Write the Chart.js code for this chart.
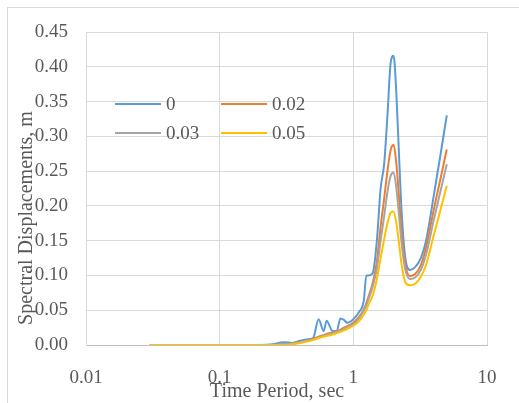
<!DOCTYPE html>
<html>
<head>
<meta charset="utf-8">
<script src="https://cdn.jsdelivr.net/npm/chart.js@4"></script>
<style>
  html, body { margin: 0; padding: 0; background: #fff; }
  #wrap { position: relative; width: 519px; height: 403px; }
  #frame { position: absolute; left: 7px; top: 7px; width: 520px; height: 410px;
           border-left: 1px solid #d9d9d9; border-top: 1px solid #d9d9d9; }
  canvas { position: absolute; left: 0; top: 0; }
</style>
</head>
<body>
<div id="wrap">
  <div id="frame"></div>
  <canvas id="chart" width="519" height="403"></canvas>
</div>
<script>
// periods (sec) and spectral displacements (m)
const periods = [0.03, 0.1, 0.2, 0.25, 0.3, 0.35, 0.4, 0.45, 0.5, 0.55, 0.6, 0.63, 0.7, 0.75, 0.8, 0.85, 0.9, 1.0, 1.1, 1.2,
  1.25, 1.3, 1.4, 1.5, 1.6, 1.7, 1.8, 1.9, 2.0, 2.1, 2.2, 2.3, 2.45, 2.65, 2.9, 3.2, 3.5, 4.0, 4.5, 5.0];
const damp0 = [0, 0, 0, 0.001, 0.004, 0.003, 0.006, 0.008, 0.01, 0.037, 0.02, 0.035, 0.02, 0.02, 0.038, 0.036, 0.032, 0.037, 0.047, 0.065,
  0.1, 0.1, 0.104, 0.15, 0.225, 0.26, 0.33, 0.405, 0.416, 0.36, 0.27, 0.19, 0.125, 0.108, 0.112, 0.125, 0.15, 0.215, 0.275, 0.33];
const damp002 = [0, 0, 0, 0, 0.001, 0.002, 0.004, 0.006, 0.009, 0.012, 0.014, 0.016, 0.018, 0.02, 0.022, 0.025, 0.027, 0.032, 0.04, 0.052,
  0.06, 0.07, 0.09, 0.12, 0.17, 0.21, 0.25, 0.28, 0.288, 0.26, 0.21, 0.16, 0.115, 0.099, 0.102, 0.115, 0.14, 0.195, 0.24, 0.281];
const damp003 = [0, 0, 0, 0, 0.001, 0.002, 0.004, 0.006, 0.008, 0.011, 0.013, 0.015, 0.017, 0.019, 0.021, 0.023, 0.026, 0.03, 0.038, 0.05,
  0.057, 0.066, 0.085, 0.11, 0.15, 0.185, 0.22, 0.243, 0.248, 0.225, 0.185, 0.145, 0.108, 0.095, 0.097, 0.108, 0.13, 0.18, 0.222, 0.26];
const damp005 = [0, 0, 0, 0, 0, 0.001, 0.003, 0.005, 0.007, 0.01, 0.012, 0.013, 0.015, 0.017, 0.019, 0.021, 0.023, 0.028, 0.034, 0.044,
  0.05, 0.058, 0.072, 0.095, 0.125, 0.152, 0.175, 0.19, 0.192, 0.175, 0.145, 0.115, 0.09, 0.086, 0.088, 0.098, 0.115, 0.158, 0.195, 0.229];
const seriesNames = ["0", "0.02", "0.03", "0.05"];
const seriesColors = ["#5B9BD5", "#ED7D31", "#A5A5A5", "#FFC000"];
const xTickValues = [0.01, 0.1, 1, 10];

const FONT = "'Liberation Serif', 'Times New Roman', serif";
const TEXT = "#595959";

function toPoints(vals) {
  return periods.map((p, i) => ({ x: p, y: vals[i] }));
}

const allSeries = [damp0, damp002, damp003, damp005];
const datasets = allSeries.map((vals, i) => ({
  label: seriesNames[i],
  data: toPoints(vals),
  borderColor: seriesColors[i],
  backgroundColor: seriesColors[i],
  borderWidth: 2,
  pointRadius: 0,
  fill: false,
  cubicInterpolationMode: "monotone",
  order: allSeries.length - i  // later series drawn on top, like the original
}));

// legend drawn inside the plot, in a 2x2 grid
const insideLegend = {
  id: "insideLegend",
  afterDraw(chart) {
    const c = chart.ctx;
    const cols = [115, 221];
    const rows = [104, 133];
    c.save();
    c.font = "19px " + FONT;
    c.textBaseline = "middle";
    chart.data.datasets.forEach((ds, i) => {
      const x = cols[i % 2], y = rows[Math.floor(i / 2)];
      c.strokeStyle = ds.borderColor;
      c.lineWidth = 2;
      c.beginPath();
      c.moveTo(x, y);
      c.lineTo(x + 46, y);
      c.stroke();
      c.fillStyle = TEXT;
      c.fillText(ds.label, x + 51, y + 1);
    });
    c.restore();
  }
};

// axis titles placed where the original has them
const axisTitles = {
  id: "axisTitles",
  afterDraw(chart) {
    const c = chart.ctx;
    c.save();
    c.fillStyle = TEXT;
    c.font = "20px " + FONT;
    c.textAlign = "center";
    c.textBaseline = "middle";
    c.fillText("Time Period, sec", 277, 392);
    c.translate(27, 218);
    c.rotate(-Math.PI / 2);
    c.fillText("Spectral Displacements, m", 0, 0);
    c.restore();
  }
};

new Chart(document.getElementById("chart"), {
  type: "line",
  data: { datasets: datasets },
  options: {
    responsive: false,
    animation: false,
    layout: { padding: { left: 0, top: 32, right: 32, bottom: 0 } },
    plugins: { legend: { display: false }, tooltip: { enabled: false } },
    scales: {
      x: {
        type: "logarithmic",
        min: 0.01,
        max: 10,
        afterBuildTicks: (s) => { s.ticks = xTickValues.map(v => ({ value: v })); },
        afterFit: (s) => { s.height = 58; },
        grid: { color: "#d9d9d9", drawTicks: false },
        border: { color: "#bfbfbf" },
        ticks: {
          padding: 22,
          color: TEXT,
          font: { family: FONT, size: 19 },
          maxRotation: 0,
          callback: (v) => String(v)
        }
      },
      y: {
        min: 0,
        max: 0.45,
        afterFit: (s) => { s.width = 86; },
        grid: { color: "#d9d9d9", drawTicks: false },
        border: { color: "#d9d9d9" },
        ticks: {
          stepSize: 0.05,
          padding: 18,
          color: TEXT,
          font: { family: FONT, size: 19 },
          callback: (v) => v.toFixed(2)
        }
      }
    }
  },
  plugins: [insideLegend, axisTitles]
});
</script>
</body>
</html>
